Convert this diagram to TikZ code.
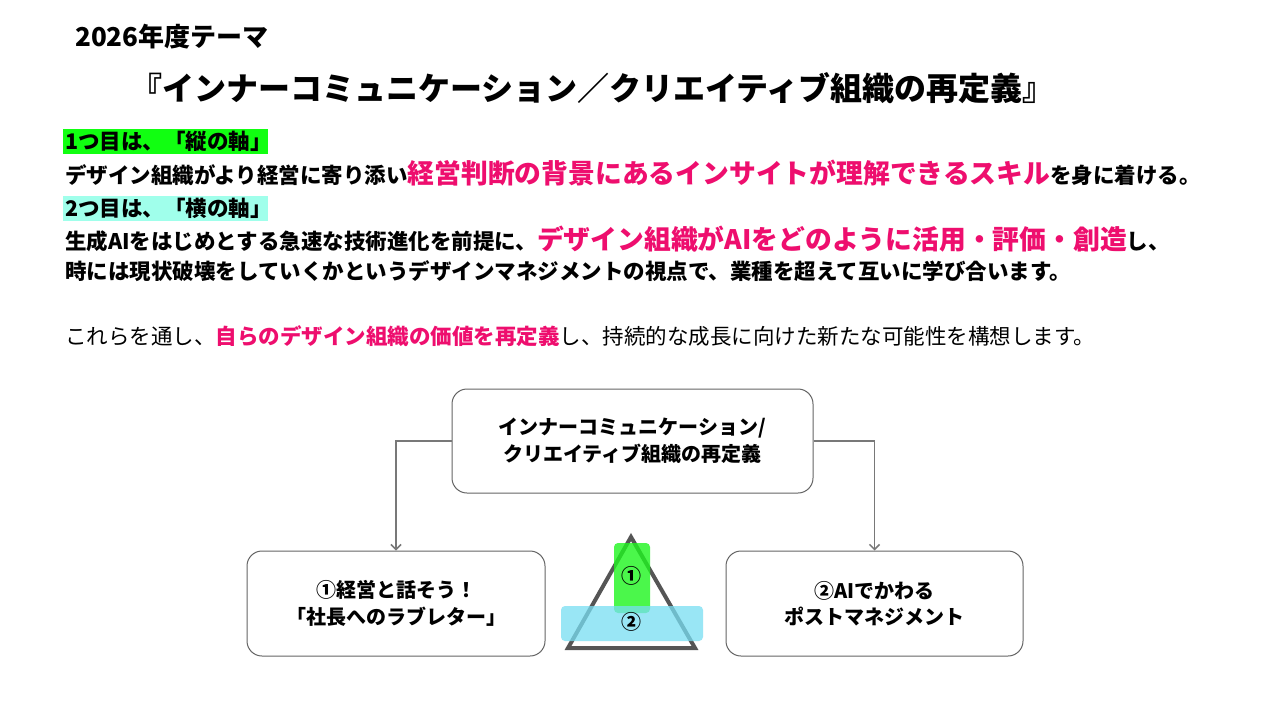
\documentclass[tikz,border=0pt]{standalone}
\usepackage{fontspec}
\setmainfont{Noto Sans CJK JP}
\usetikzlibrary{arrows.meta}
\definecolor{pinkT}{RGB}{238,14,110}
\definecolor{hlgreen}{RGB}{17,255,17}
\definecolor{hlcyan}{RGB}{160,255,235}
\definecolor{boxgray}{RGB}{100,100,100}
\definecolor{conngray}{RGB}{120,120,120}
\definecolor{trigray}{RGB}{85,85,85}
\definecolor{trigreen}{RGB}{30,245,30}
\definecolor{tricyan}{RGB}{120,222,242}
\tikzset{
  txt/.style={inner sep=0pt, anchor=base west, font=\bfseries\fontsize{21.5}{25}\selectfont},
  boxnode/.style={draw=boxgray, line width=1pt, rounded corners=15pt, fill=white, align=center,
    font=\bfseries\fontsize{20}{26.5}\selectfont, inner sep=0pt},
  conn/.style={draw=conngray, line width=1.5pt, -{Straight Barb[length=5pt,width=10pt]}},
  numlbl/.style={inner sep=0pt, font=\bfseries\fontsize{20}{24}\selectfont},
}
\newcommand{\pk}[1]{{\color{pinkT}\fontsize{26.8}{30}\selectfont #1}}
\begin{document}
\begin{tikzpicture}[x=1pt,y=-1pt]
\useasboundingbox[fill=white] (0,0) rectangle (1272,712);

% headings
\node[txt, font=\bfseries\fontsize{26}{28}\selectfont] (year) at (75,46) {2026年度テーマ};
\node[txt, font=\bfseries\fontsize{32}{34}\selectfont] (theme) at (130,100) {『インナーコミュニケーション／クリエイティブ組織の再定義』};

% highlight bars
\fill[hlgreen] (63,129) rectangle (268,154);
\fill[hlcyan] (63,196) rectangle (268,221);

\node[txt] (l1) at (65,149) {1つ目は、「縦の軸」};
\node[txt] (l2) at (65,183) {デザイン組織がより経営に寄り添い\pk{経営判断の背景にあるインサイトが理解できるスキル}を身に着ける。};
\node[txt] (l3) at (65,216) {2つ目は、「横の軸」};
\node[txt] (l4) at (65,249) {生成AIをはじめとする急速な技術進化を前提に、\pk{デザイン組織がAIをどのように活用・評価・創造}し、};
\node[txt] (l5) at (65,279) {時には現状破壊をしていくかというデザインマネジメントの視点で、業種を超えて互いに学び合います。};
\node[txt, font=\mdseries\fontsize{21.5}{25}\selectfont] (l6) at (65,344) {これらを通し、{\bfseries\color{pinkT}自らのデザイン組織の価値を再定義}し、持続的な成長に向けた新たな可能性を構想します。};

% diagram boxes
\node[boxnode, minimum width=361pt, minimum height=104pt] (top) at (632.5,441) {インナーコミュニケーション/\\クリエイティブ組織の再定義};
\node[boxnode, minimum width=298pt, minimum height=105pt] (left) at (396,603.5) {①経営と話そう！\\「社長へのラブレター」};
\node[boxnode, minimum width=297pt, minimum height=105pt] (right) at (874.5,603.5) {②AIでかわる\\ポストマネジメント};

\draw[conn] (top.west) -| (left.north);
\draw[conn] (top.east) -| (right.north);

% triangle
\coordinate (ta) at (631,537);
\coordinate (tb) at (568,648);
\coordinate (tc) at (695,648);
\draw[trigray, line width=4pt, line join=miter] (ta) -- (tb) -- (tc) -- cycle;
\fill[trigreen, opacity=0.8, rounded corners=4pt] (614,543) rectangle (650,613);
\fill[tricyan, opacity=0.75, rounded corners=4pt] (561,606) rectangle (703,641);
\node[numlbl] (n1) at (631,576) {①};
\node[numlbl] (n2) at (631,622) {②};
\end{tikzpicture}
\end{document}
